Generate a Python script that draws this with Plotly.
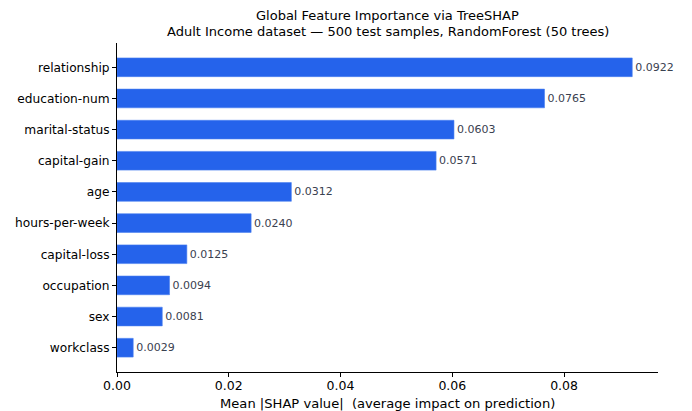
import plotly.graph_objects as go

features = ["relationship", "education-num", "marital-status", "capital-gain", "age",
            "hours-per-week", "capital-loss", "occupation", "sex", "workclass"]
importance = [0.0922, 0.0765, 0.0603, 0.0571, 0.0312, 0.0240, 0.0125, 0.0094, 0.0081, 0.0029]
x_ticks = [0.0, 0.02, 0.04, 0.06, 0.08]
x_tick_labels = ["0.00", "0.02", "0.04", "0.06", "0.08"]
title_lines = ["Global Feature Importance via TreeSHAP",
               "Adult Income dataset \u2014 500 test samples, RandomForest (50 trees)"]
x_title = "Mean |SHAP value|\u00a0\u00a0(average impact on prediction)"

n = len(features)
ypos = list(range(n - 1, -1, -1))

T, B = 43, 372
H = B - T

def py(pix):
    return (B - pix) / H

fig = go.Figure(go.Bar(
    x=importance, y=ypos, orientation="h", width=0.6,
    marker=dict(color="#2563EB", line=dict(color="#4a80f0", width=0.6)),
    text=[f"{v:.4f}" for v in importance], textposition="outside",
    textfont=dict(family="DejaVu Sans", size=11, color="#3a4150"),
    cliponaxis=False,
))

annotations = [
    dict(text=title_lines[0], x=0.5, xref="paper", y=py(15), yref="paper",
         xanchor="center", yanchor="middle", showarrow=False, font=dict(size=13)),
    dict(text=title_lines[1], x=0.5, xref="paper", y=py(32), yref="paper",
         xanchor="center", yanchor="middle", showarrow=False, font=dict(size=13)),
    dict(text=x_title, x=0.5, xref="paper", y=py(403), yref="paper",
         xanchor="center", yanchor="middle", showarrow=False, font=dict(size=13.1)),
]

fig.update_layout(
    width=692, height=411,
    margin=dict(l=117, r=34, t=T, b=411 - B, autoexpand=False),
    paper_bgcolor="white", plot_bgcolor="white",
    font=dict(family="DejaVu Sans", color="black"),
    showlegend=False,
    annotations=annotations,
    xaxis=dict(range=[0, 0.0922 * 1.05], tickvals=x_ticks, ticktext=x_tick_labels,
               automargin=False, ticklabelstandoff=-2,
               showgrid=False, zeroline=False, showline=True, linecolor="black", linewidth=1,
               ticks="outside", ticklen=4, tickcolor="black", tickfont=dict(size=12.5)),
    yaxis=dict(range=[-0.78, n - 1 + 0.78], tickvals=ypos, ticktext=features,
               automargin=False, ticklabelstandoff=0,
               showgrid=False, zeroline=False, showline=True, linecolor="black", linewidth=1,
               ticks="outside", ticklen=4, tickcolor="black", tickfont=dict(size=12.2)),
)

fig.write_html("out.html")
